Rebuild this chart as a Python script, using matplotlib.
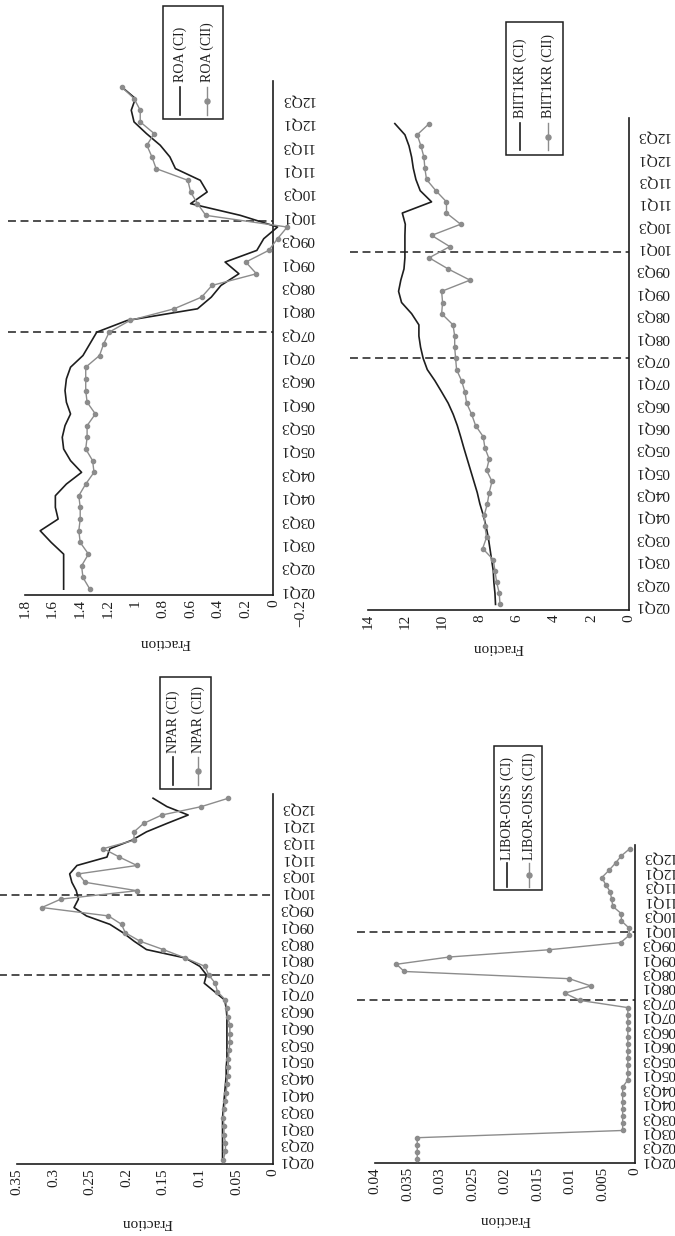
import matplotlib.pyplot as plt
from matplotlib.lines import Line2D
from matplotlib.patches import Rectangle
import numpy as np

plt.rcParams['font.family'] = ['Liberation Serif', 'DejaVu Serif']

W, H = 675, 1236

quarters = [f"{y:02d}Q{q}" for y in range(2, 13) for q in range(1, 5)]
tick_quarters = quarters[::2]

# crisis markers: 07Q3 and the 09Q4/10Q1 boundary
events = [22, 31.5]

roa_ci = [1.52, 1.52, 1.52, 1.52, 1.61, 1.69, 1.56, 1.58, 1.58, 1.50, 1.39, 1.47,
          1.52, 1.53, 1.51, 1.47, 1.50, 1.51, 1.50, 1.47, 1.38, 1.33, 1.28, 1.06,
          0.55, 0.45, 0.38, 0.25, 0.35, 0.12, 0.07, -0.03, 0.24, 0.60, 0.48, 0.53,
          0.71, 0.75, 0.82, 0.92, 1.01, 1.03, 1.00, 1.10]
roa_cii = [1.33, 1.38, 1.39, 1.34, 1.40, 1.41, 1.40, 1.40, 1.41, 1.36, 1.30, 1.31,
           1.36, 1.35, 1.35, 1.29, 1.35, 1.36, 1.36, 1.36, 1.26, 1.23, 1.19, 1.04,
           0.72, 0.52, 0.445, 0.123, 0.20, 0.034, -0.03, -0.10, 0.49, 0.55, 0.60, 0.62,
           0.85, 0.88, 0.917, 0.864, 0.965, 0.965, 1.01, 1.10]

npar_ci = [0.069, 0.069, 0.069, 0.069, 0.069, 0.069, 0.068, 0.067, 0.066, 0.065, 0.064, 0.064,
           0.063, 0.063, 0.063, 0.063, 0.063, 0.063, 0.064, 0.066, 0.080, 0.094, 0.091, 0.100,
           0.120, 0.173, 0.190, 0.205, 0.223, 0.255, 0.272, 0.266, 0.269, 0.275, 0.278, 0.268,
           0.227, 0.223, 0.193, 0.173, 0.145, 0.116, 0.145, 0.164]
npar_cii = [0.068, 0.065, 0.065, 0.067, 0.067, 0.068, 0.067, 0.065, 0.064, 0.063, 0.062, 0.061,
            0.061, 0.060, 0.059, 0.059, 0.059, 0.062, 0.063, 0.065, 0.076, 0.079, 0.088, 0.093,
            0.120, 0.150, 0.182, 0.202, 0.207, 0.225, 0.316, 0.290, 0.186, 0.257, 0.266, 0.186,
            0.210, 0.232, 0.190, 0.190, 0.177, 0.152, 0.098, 0.061]

biit_ci = [7.16, 7.19, 7.25, 7.28, 7.37, 7.46, 7.55, 7.67, 7.82, 8.00, 8.14, 8.32,
           8.50, 8.68, 8.86, 9.03, 9.21, 9.43, 9.70, 10.05, 10.41, 10.82, 11.04, 11.18,
           11.27, 11.27, 11.66, 12.20, 12.36, 12.24, 12.07, 12.02, 12.02, 12.02, 12.00, 12.16,
           10.59, 11.20, 11.43, 11.57, 11.66, 11.80, 12.02, 12.56]
biit_cii = [6.92, 6.96, 7.10, 7.19, 7.28, 7.85, 7.64, 7.73, 7.76, 7.60, 7.50, 7.35,
            7.64, 7.50, 7.73, 7.82, 8.23, 8.44, 8.71, 8.80, 8.98, 9.25, 9.30, 9.35,
            9.35, 9.44, 10.05, 10.00, 10.05, 8.53, 9.70, 10.72, 9.61, 10.59, 9.03, 9.79,
            9.79, 10.36, 10.86, 10.95, 11.00, 11.16, 11.36, 10.72]

libor_cii = [0.0335, 0.0335, 0.0335, 0.0335, 0.0019, 0.0019, 0.0019, 0.0019, 0.0019, 0.0019, 0.0019, 0.0011,
             0.0011, 0.0011, 0.0011, 0.0011, 0.0011, 0.0011, 0.0011, 0.0011, 0.0011, 0.0011, 0.0085, 0.0108,
             0.0068, 0.0101, 0.0355, 0.0367, 0.0286, 0.0133, 0.0022, 0.0009, 0.0009, 0.0021, 0.0021, 0.0034,
             0.0036, 0.0038, 0.0045, 0.0051, 0.0040, 0.0030, 0.0021, 0.0008]

GRAY = '#8c8c8c'
INK = '#1e1e1e'

# name, CI, CII, axes box in pixels (x0, y0, x1, y1), value range, tick step,
# legend box and entries in pixels, axis-title position in axes fraction
panels = [
    dict(name='ROA', ci=roa_ci, cii=roa_cii, box=(25, 81, 301, 595),
         vmax=1.8, vmin=-0.2, step=0.2,
         leg=(163, 6, 223, 119), lx=(180, 207), ly=(87, 115), ty=82, lab=(0.507, -0.093)),
    dict(name='NPAR', ci=npar_ci, cii=npar_cii, box=(17, 794, 273, 1164),
         vmax=0.35, vmin=0.0, step=0.05,
         leg=(160, 677, 211, 789), lx=(173, 198), ly=(757, 785), ty=753, lab=(0.508, -0.157)),
    dict(name='BIIT1KR', ci=biit_ci, cii=biit_cii, box=(368, 118, 629, 610),
         vmax=14, vmin=0, step=2,
         leg=(506, 22, 563, 155), lx=(520, 548), ly=(123, 150), ty=118, lab=(0.498, -0.077)),
    dict(name='LIBOR-OISS', ci=None, cii=libor_cii, box=(375, 845, 635, 1163),
         vmax=0.04, vmin=0.0, step=0.005,
         leg=(494, 746, 542, 890), lx=(507, 529), ly=(863, 887), ty=860, lab=(0.5, -0.179)),
]


def fx(x):
    return x / W


def fy(y):
    return 1 - y / H


def fmt(v):
    return f"{round(v, 4) + 0.0:g}".replace('-', '\u2212')


fig = plt.figure(figsize=(W / 100, H / 100), dpi=100)
pos = np.arange(len(quarters))

for p in panels:
    x0, y0, x1, y1 = p['box']
    ax = fig.add_axes([fx(x0), fy(y1), (x1 - x0) / W, (y1 - y0) / H])
    ax.set_facecolor('none')

    if p['ci'] is not None:
        ax.plot(p['ci'], pos, color=INK, lw=1.2, zorder=3)
    ax.plot(p['cii'], pos, color=GRAY, lw=1.0, marker='o', ms=3.0,
            mec=GRAY, mfc=GRAY, zorder=4)

    for q in events:
        ax.plot([p['vmax'] * 1.07, 0], [q, q], color=INK, lw=1.1,
                ls=(0, (5.2, 3.0)), clip_on=False, zorder=2)

    ax.set_xlim(p['vmax'], p['vmin'])
    ax.set_ylim(-0.5, len(quarters) - 0.5)

    ax.spines['top'].set_visible(False)
    ax.spines['left'].set_visible(False)
    ax.spines['right'].set_position(('data', 0))
    ax.spines['bottom'].set_bounds(0, p['vmax'])
    for s in ('right', 'bottom'):
        ax.spines[s].set_color(INK)
        ax.spines[s].set_linewidth(1.2)

    ax.yaxis.tick_right()
    ax.set_yticks(pos[::2])
    ax.set_yticklabels(tick_quarters, rotation=180, fontsize=11, color=INK)
    ax.tick_params(axis='y', length=0, pad=5)

    ticks = np.arange(p['vmin'], p['vmax'] + p['step'] / 2, p['step'])
    ax.set_xticks(ticks)
    ax.set_xticklabels([fmt(t) for t in ticks], rotation=90, fontsize=11, color=INK)
    ax.tick_params(axis='x', length=0, pad=3)

    ax.set_xlabel('Fraction', rotation=180, fontsize=11, color=INK, va='center')
    ax.xaxis.set_label_coords(*p['lab'])

    # legend drawn sideways to follow the rotated layout
    bx0, by0, bx1, by1 = p['leg']
    fig.add_artist(Rectangle((fx(bx0), fy(by1)), (bx1 - bx0) / W, (by1 - by0) / H,
                             transform=fig.transFigure, fill=False, ec=INK, lw=1.1))
    xa, xb = p['lx']
    ya, yb = p['ly']
    fig.add_artist(Line2D([fx(xa), fx(xa)], [fy(ya), fy(yb)],
                          transform=fig.transFigure, color=INK, lw=1.2))
    fig.add_artist(Line2D([fx(xb), fx(xb), fx(xb)], [fy(ya), fy((ya + yb) / 2), fy(yb)],
                          transform=fig.transFigure, color=GRAY, lw=1.0,
                          marker='o', ms=3.6, markevery=[1]))
    for xt, suffix in ((xa, '(CI)'), (xb, '(CII)')):
        fig.text(fx(xt), fy(p['ty']), f"{p['name']} {suffix}", rotation=90,
                 rotation_mode='anchor', ha='left', va='center', fontsize=10, color=INK)

fig.savefig('out.png', dpi=100)
